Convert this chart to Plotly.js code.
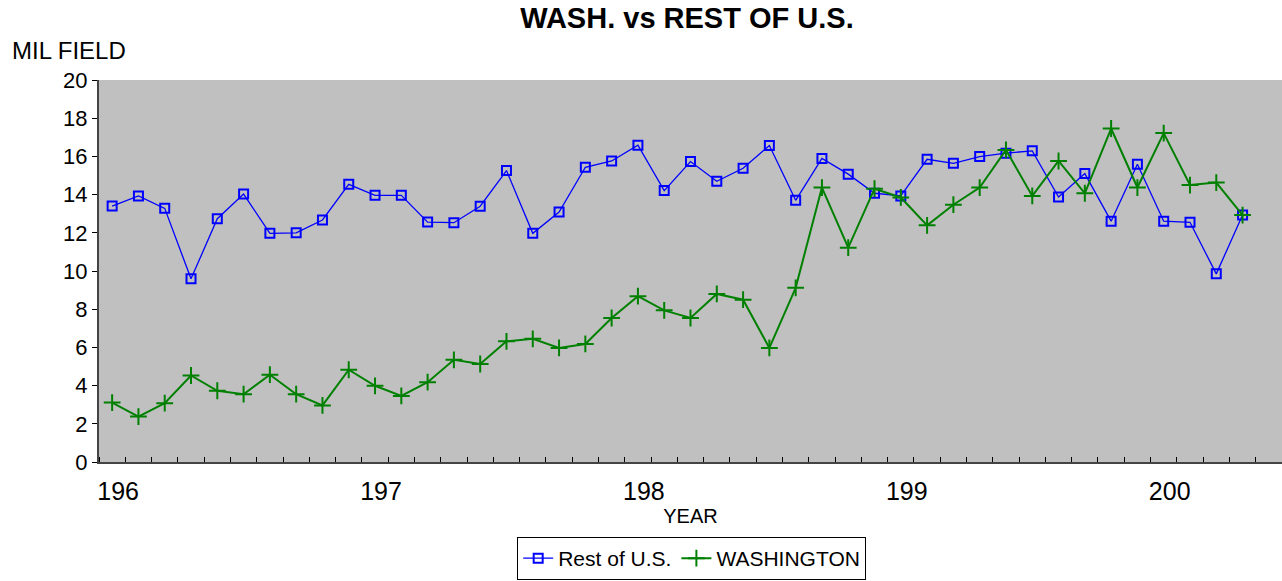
<!DOCTYPE html>
<html>
<head>
<meta charset="utf-8">
<script src="https://cdn.plot.ly/plotly-3.0.1.min.js"></script>
<style>html,body{margin:0;padding:0;background:#fff;}#chart{width:1282px;height:581px;}</style>
</head>
<body>
<div id="chart"></div>
<script>
var years = [];
for (var y = 1960; y <= 2003; y++) years.push(y);

var restOfUS = [13.4, 13.93, 13.28, 9.59, 12.74, 14.03, 11.97, 12.0, 12.67, 14.54,
                13.96, 13.96, 12.56, 12.53, 13.39, 15.26, 11.97, 13.09, 15.43, 15.76,
                16.59, 14.21, 15.73, 14.70, 15.38, 16.57, 13.70, 15.89, 15.07, 14.07,
                13.93, 15.85, 15.64, 15.99, 16.17, 16.29, 13.87, 15.10, 12.61, 15.59,
                12.61, 12.55, 9.85, 12.93];

var washington = [3.11, 2.38, 3.08, 4.53, 3.73, 3.55, 4.57, 3.55, 2.96, 4.83,
                  3.99, 3.46, 4.18, 5.35, 5.13, 6.32, 6.45, 5.97, 6.18, 7.54,
                  8.68, 7.94, 7.54, 8.80, 8.50, 5.97, 9.12, 14.37, 11.22, 14.31,
                  13.85, 12.39, 13.47, 14.37, 16.34, 13.93, 15.76, 14.07, 17.46, 14.37,
                  17.22, 14.50, 14.63, 12.93];

var tickYears = [1960, 1970, 1980, 1990, 2000];
var tickText = ["196", "197", "198", "199", "200"];

var FONT = "Liberation Sans, Arial, sans-serif";

var traces = [
  {
    x: years, y: restOfUS, name: "Rest of U.S.", type: "scatter", mode: "lines+markers",
    line: {color: "#0000FF", width: 1.3},
    marker: {symbol: "square-open", size: 9, color: "#0000FF", line: {color: "#0000FF", width: 2}}
  },
  {
    x: years, y: washington, name: "WASHINGTON", type: "scatter", mode: "lines+markers",
    line: {color: "#008000", width: 2},
    marker: {symbol: "cross-thin-open", size: 12, color: "#008000", line: {color: "#008000", width: 2}}
  }
];

var layout = {
  width: 1282, height: 581,
  margin: {l: 99, r: 0, t: 80, b: 119},
  paper_bgcolor: "#FFFFFF",
  plot_bgcolor: "#C0C0C0",
  font: {family: FONT, color: "#000"},
  title: {text: "<b>WASH. vs REST OF U.S.</b>", font: {size: 29, family: FONT, color: "#000"},
          x: 0.497, xanchor: "center", y: 1 - 18/581, yanchor: "middle", xref: "paper"},
  xaxis: {
    range: [1959.5, 2004.5],
    tickmode: "array", tickvals: tickYears, ticktext: tickText,
    ticks: "", tickfont: {size: 25, family: FONT},
    ticklabelshift: 6, ticklabelstandoff: 6,
    minor: {tickmode: "linear", tick0: 1959.5, dtick: 1, ticks: "inside", ticklen: 5, tickcolor: "#000", tickwidth: 1, showgrid: false},
    showgrid: false, zeroline: false,
    showline: true, linecolor: "#444", linewidth: 2,
    title: {text: "YEAR", font: {size: 20, family: FONT}, standoff: 4},
    fixedrange: true
  },
  yaxis: {
    range: [0, 20], dtick: 2, tick0: 0,
    ticks: "outside", ticklen: 5, tickcolor: "#000", tickwidth: 1,
    tickfont: {size: 22, family: FONT},
    showgrid: false, zeroline: false,
    showline: true, linecolor: "#444", linewidth: 2,
    fixedrange: true
  },
  showlegend: true,
  legend: {
    orientation: "h", x: 0.501, xanchor: "center", xref: "paper",
    y: 1 - 537/581, yanchor: "top", yref: "container",
    bordercolor: "#000", borderwidth: 1, bgcolor: "#FFF",
    font: {size: 21, family: FONT}
  },
  annotations: [
    {text: "MIL FIELD", xref: "paper", yref: "paper", x: -0.0752, y: 1.076,
     xanchor: "left", yanchor: "middle", showarrow: false, font: {size: 24, family: FONT, color: "#000"}}
  ]
};

Plotly.newPlot("chart", traces, layout, {displayModeBar: false, staticPlot: true});
</script>
</body>
</html>
